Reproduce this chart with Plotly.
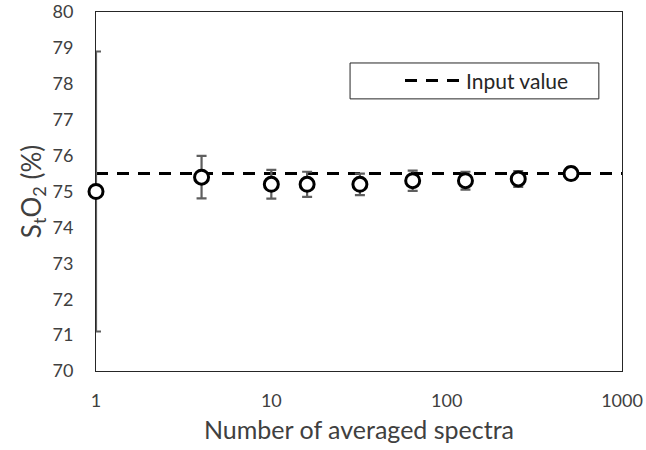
import plotly.graph_objects as go

# Data
n_spectra = [1, 4, 10, 16, 32, 64, 128, 256, 512]
sto2_mean = [75.0, 75.4, 75.2, 75.2, 75.2, 75.3, 75.3, 75.35, 75.5]
sto2_sd = [3.9, 0.59, 0.4, 0.35, 0.3, 0.28, 0.25, 0.22, 0.17]
input_value = 75.5
input_x = [1, 1000]
x_tick_vals = [1, 10, 100, 1000]
x_tick_text = ["1", "10", "100", "1000"]

FONT = "Lato, 'Open Sans', sans-serif"
TXT = "#404040"

fig = go.Figure()

fig.add_trace(go.Scatter(
    x=input_x, y=[input_value, input_value],
    mode="lines", name="Input value",
    line=dict(color="black", width=3, dash="12px,9px"),
    showlegend=True,
))

fig.add_trace(go.Scatter(
    x=n_spectra, y=sto2_mean,
    mode="markers", showlegend=False,
    marker=dict(symbol="circle", size=14, color="white",
                line=dict(color="black", width=3)),
    error_y=dict(type="data", array=sto2_sd, visible=True,
                 color="#5f5f5f", thickness=2.2, width=5),
    cliponaxis=False,
))

fig.add_shape(type="rect", xref="paper", yref="paper",
              x0=0.483, x1=0.956, y0=0.758, y1=0.858,
              line=dict(color="#262626", width=1), fillcolor="white",
              layer="below")

fig.update_layout(
    width=646, height=450,
    margin=dict(l=96, r=24, t=12, b=79, autoexpand=False),
    paper_bgcolor="white", plot_bgcolor="white",
    font=dict(family=FONT, color=TXT, size=18),
    legend=dict(x=0.578, y=0.808, xanchor="left", yanchor="middle",
                bgcolor="rgba(0,0,0,0)", borderwidth=0, itemwidth=56,
                font=dict(family=FONT, size=21, color="#262626")),
    xaxis=dict(
        type="log", range=[0, 3], automargin=False,
        tickvals=x_tick_vals, ticktext=x_tick_text,
        showgrid=False, zeroline=False,
        showline=True, linecolor="#262626", linewidth=1, mirror=True,
        ticks="", ticklabelstandoff=13,
        tickfont=dict(size=18, color=TXT),
        title=dict(text="Number of averaged spectra",
                   font=dict(size=25, color=TXT), standoff=11),
        layer="below traces",
    ),
    yaxis=dict(
        range=[70, 80], dtick=1, automargin=False,
        showgrid=False, zeroline=False,
        showline=True, linecolor="#262626", linewidth=1, mirror=True,
        ticks="", ticklabelstandoff=18,
        tickfont=dict(size=18, color=TXT),
        title=dict(text="S<sub>t</sub>O<sub>2</sub> (%)",
                   font=dict(size=26, color=TXT), standoff=3),
        layer="below traces",
    ),
)

fig.write_html("out.html",
               config={"displayModeBar": False},
               post_script="document.body.style.margin='0';document.body.style.overflow='hidden';")
